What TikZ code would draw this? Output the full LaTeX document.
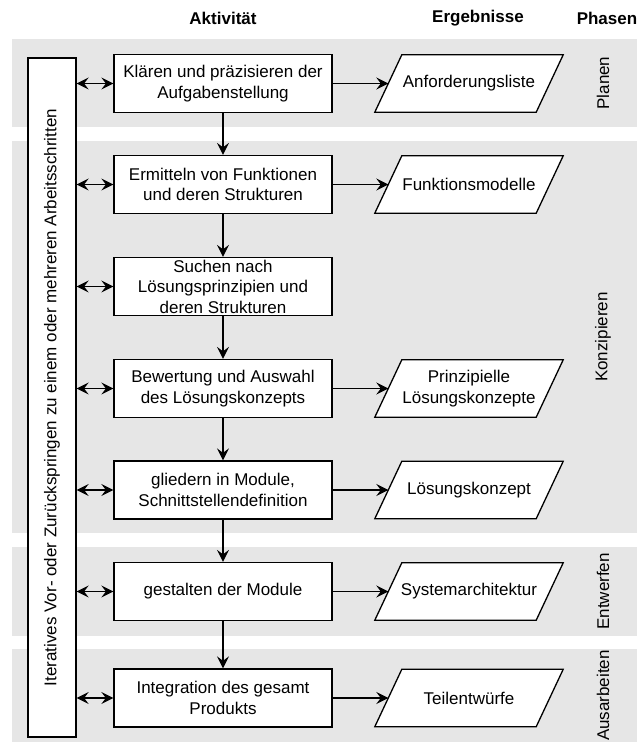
\documentclass[tikz,border=0pt]{standalone}
\usepackage{fontspec}
\setmainfont{Liberation Sans}
\usetikzlibrary{arrows.meta,calc}
\definecolor{bandgray}{HTML}{E6E6E6}
\pgfdeclarelayer{bg}
\pgfdeclarelayer{mid}
\pgfsetlayers{bg,mid,main}
\begin{document}
\begin{tikzpicture}[x=1pt,y=-1pt,
  every node/.style={font=\fontsize{17}{20.5}\selectfont},
  band/.style={fill=bandgray},
  stepbox/.style={draw, line width=1.3pt, fill=white, minimum width=218pt, minimum height=58pt, align=center, inner sep=2pt},
  result/.style={draw=none, minimum width=161pt, minimum height=57pt, align=center, inner sep=1pt},
  paraline/.style={draw, line width=1.3pt, fill=white, line join=miter},
  arr/.style={-{Stealth[length=12pt,width=12pt,inset=4.5pt]}, line width=1.4pt},
  darr/.style={{Stealth[length=12pt,width=12pt,inset=4.5pt]}-{Stealth[length=12pt,width=12pt,inset=4.5pt]}, line width=1.4pt},
  head/.style={font=\fontsize{17}{20.5}\selectfont\bfseries},
  phase/.style={rotate=90},
]
\useasboundingbox (0,0) rectangle (637,742);
% bands
\begin{pgfonlayer}{bg}
\fill[band] (12,39) rectangle (637,127);
\fill[band] (12,141) rectangle (637,533);
\fill[band] (12,547) rectangle (637,636);
\fill[band] (12,649) rectangle (637,742);
\end{pgfonlayer}
% headers
\node[head] (hA) at (223,18) {Aktivität};
\node[head] (hE) at (478,18) {Ergebnisse};
\node[head] (hP) at (607,18) {Phasen};
% phases
\node[phase] (ph1) at (603,83) {Planen};
\node[phase] (ph2) at (603,337) {Konzipieren};
\node[phase] (ph3) at (603,591.5) {Entwerfen};
\node[phase] (ph4) at (603,695.5) {Ausarbeiten};
% left box
\node[draw, line width=1.3pt, fill=white, minimum width=48pt, minimum height=679pt, inner sep=0pt] (lb) at (52,397.5)
  {\rotatebox{90}{Iteratives Vor- oder Zurückspringen zu einem oder mehreren Arbeitsschritten}};
% steps
\node[stepbox] (b1) at (223,83.5) {Klären und präzisieren der\\Aufgabenstellung};
\node[stepbox] (b2) at (223,184.5) {Ermitteln von Funktionen\\und deren Strukturen};
\node[stepbox] (b3) at (223,286.5) {Suchen nach\\Lösungsprinzipien und\\deren Strukturen};
\node[stepbox] (b4) at (223,388.5) {Bewertung und Auswahl\\des Lösungskonzepts};
\node[stepbox] (b5) at (223,490) {gliedern in Module,\\Schnittstellendefinition};
\node[stepbox] (b6) at (223,591.5) {gestalten der Module};
\node[stepbox] (b7) at (223,698) {Integration des gesamt\\Produkts};
% results
\node[result] (p1) at (469,83.5) {Anforderungsliste};
\node[result] (p2) at (469,184.5) {Funktionsmodelle};
\node[result] (p4) at (469,388.5) {Prinzipielle\\Lösungskonzepte};
\node[result] (p5) at (469,490) {Lösungskonzept};
\node[result] (p6) at (469,591.5) {Systemarchitektur};
\node[result] (p7) at (469,698) {Teilentwürfe};
\begin{pgfonlayer}{mid}
\foreach \p in {p1,p2,p4,p5,p6,p7}
  \draw[paraline] ($(\p.south west)+(-13.5,0)$) -- ($(\p.north west)+(13.5,0)$)
     -- ($(\p.north east)+(13.5,0)$) -- ($(\p.south east)+(-13.5,0)$) -- cycle;
\end{pgfonlayer}
% flow arrows
\draw[arr] (b1) -- (b2);
\draw[arr] (b2) -- (b3);
\draw[arr] (b3) -- (b4);
\draw[arr] (b4) -- (b5);
\draw[arr] (b5) -- (b6);
\draw[arr] (b6) -- (b7);
% result arrows
\draw[arr] (b1) -- (p1);
\draw[arr] (b2) -- (p2);
\draw[arr] (b4) -- (p4);
\draw[arr] (b5) -- (p5);
\draw[arr] (b6) -- (p6);
\draw[arr] (b7) -- (p7);
% iteration arrows
\foreach \b in {b1,b2,b3,b4,b5,b6,b7}
  \draw[darr] (\b.west -| lb.east) -- (\b.west);
\end{tikzpicture}
\end{document}
